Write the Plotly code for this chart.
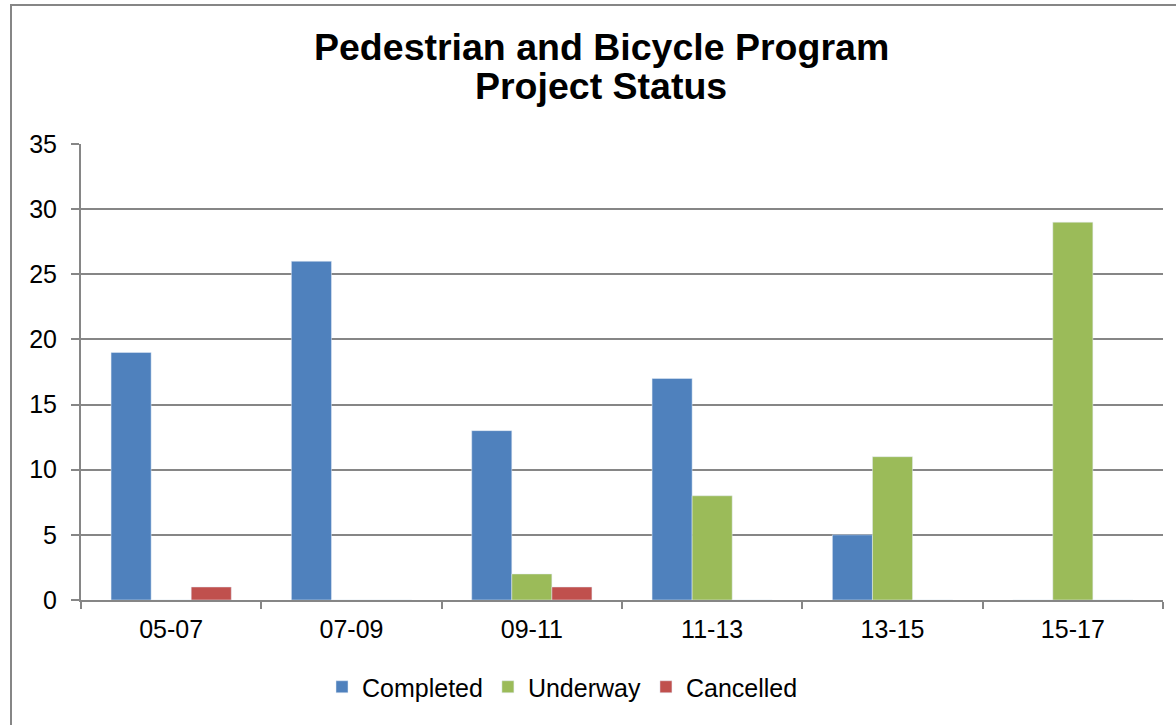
import plotly.graph_objects as go

categories = ["05-07", "07-09", "09-11", "11-13", "13-15", "15-17"]
completed = [19, 26, 13, 17, 5, 0]
underway = [0, 0, 2, 8, 11, 29]
cancelled = [1, 0, 1, 0, 0, 0]
y_ticks = [0, 5, 10, 15, 20, 25, 30, 35]

FONT = "Liberation Sans, Arial, sans-serif"
GRAY = "#868686"

fig = go.Figure()
fig.add_trace(go.Bar(name="Completed", x=categories, y=completed, marker_color="#4F81BD"))
fig.add_trace(go.Bar(name="Underway", x=categories, y=underway, marker_color="#9BBB59"))
fig.add_trace(go.Bar(name="Cancelled", x=categories, y=cancelled, marker_color="#C0504D"))

W, H = 1176, 725
# plot area in screen pixels
X0, X1, Y0, Y1 = 81, 1163, 144, 600
L, R, T, B = X0, W - X1, Y0, H - Y1
pw = X1 - X0
ph = Y1 - Y0

def px2x(px):
    return (px - X0) / pw

def py2y(py):
    return (Y1 - py) / ph

fig.update_layout(
    width=W, height=H,
    margin=dict(l=L, r=R, t=T, b=B, pad=0),
    paper_bgcolor="white", plot_bgcolor="white",
    barmode="group", bargap=1/3, bargroupgap=0,
    font=dict(family=FONT, size=25, color="black"),
    showlegend=True,
    legend=dict(orientation="h", x=px2x(322), xanchor="left", y=py2y(687), yanchor="middle",
                font=dict(size=25), itemwidth=30, traceorder="normal"),
    xaxis=dict(type="category", showline=True, linecolor=GRAY, linewidth=2, ticks="outside",
               tickson="boundaries", ticklen=7, tickcolor=GRAY, tickwidth=2, showgrid=False,
               ticklabelstandoff=6, tickfont=dict(size=25)),
    yaxis=dict(range=[0, 35], tickvals=y_ticks, showline=True, linecolor=GRAY, linewidth=2,
               ticks="outside", ticklen=8, tickcolor=GRAY, tickwidth=2, showgrid=True,
               gridcolor=GRAY, gridwidth=1.5, zeroline=False, ticklabelstandoff=9,
               tickfont=dict(size=25)),
    shapes=[dict(type="rect", xref="paper", yref="paper",
                 x0=px2x(11), x1=px2x(1190), y0=py2y(740), y1=py2y(5),
                 line=dict(color=GRAY, width=2), fillcolor="rgba(0,0,0,0)", layer="below")],
    annotations=[
        dict(text="<b>Pedestrian and Bicycle Program</b>", xref="paper", yref="paper",
             x=px2x(601), y=py2y(61), xanchor="center", yanchor="bottom", showarrow=False,
             font=dict(size=37.5, family=FONT, color="black"), yshift=-9),
        dict(text="<b>Project Status</b>", xref="paper", yref="paper",
             x=px2x(601), y=py2y(100), xanchor="center", yanchor="bottom", showarrow=False,
             font=dict(size=37.5, family=FONT, color="black"), yshift=-9),
    ],
)

fig.write_html(
    "out.html",
    config={"displayModeBar": False},
    post_script="document.body.style.margin='0';document.body.style.overflow='hidden';",
)
